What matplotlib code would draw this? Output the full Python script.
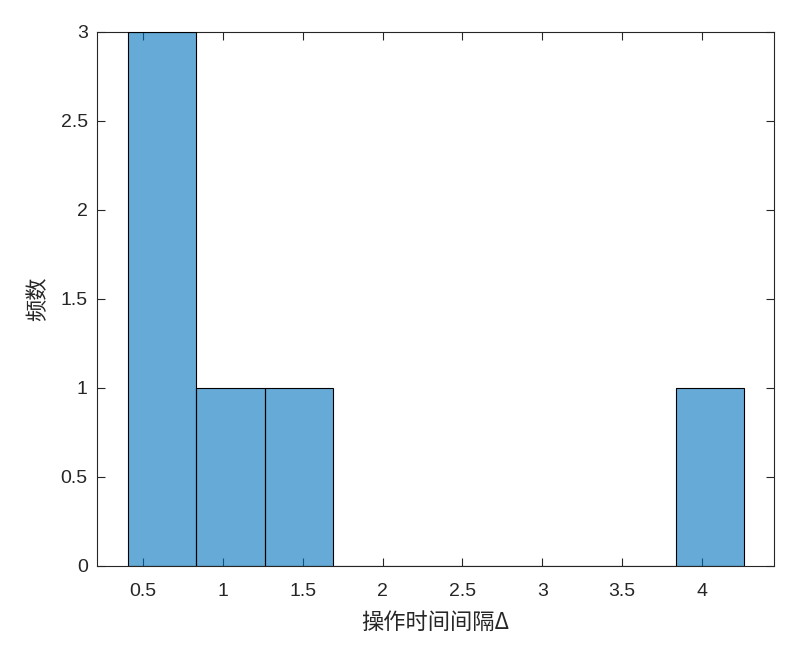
import matplotlib
matplotlib.use("Agg")
import matplotlib.pyplot as plt

# histogram data
bin_edges = [0.402, 0.832, 1.261, 1.691, 2.120, 2.550, 2.979, 3.408, 3.837, 4.266]
counts = [3, 1, 1, 0, 0, 0, 0, 0, 1]
x_ticks = [0.5, 1, 1.5, 2, 2.5, 3, 3.5, 4]
x_ticklabels = ["0.5", "1", "1.5", "2", "2.5", "3", "3.5", "4"]
y_ticks = [0, 0.5, 1, 1.5, 2, 2.5, 3]
y_ticklabels = ["0", "0.5", "1", "1.5", "2", "2.5", "3"]

plt.rcParams['font.family'] = ['Liberation Sans', 'Noto Sans CJK SC', 'DejaVu Sans']

fig = plt.figure(figsize=(7.98, 6.54), dpi=100)
ax = fig.add_axes([0.122, 0.1346, 0.848, 0.8165])

widths = [b - a for a, b in zip(bin_edges[:-1], bin_edges[1:])]
ax.bar(bin_edges[:-1], counts, width=widths, align='edge',
       color='#0072BD', alpha=0.6, edgecolor='none', zorder=2)
ax.bar(bin_edges[:-1], counts, width=widths, align='edge',
       facecolor='none', edgecolor='black', linewidth=0.8, zorder=3)

ax.set_xlim(0.212, 4.453)
ax.set_ylim(0, 3)
ax.set_xticks(x_ticks)
ax.set_xticklabels(x_ticklabels)
ax.set_yticks(y_ticks)
ax.set_yticklabels(y_ticklabels)

ax.tick_params(direction='in', top=True, right=True, length=6, width=0.8,
               colors='#262626', labelsize=14)
ax.tick_params(axis='x', pad=12)
ax.tick_params(axis='y', pad=7)
for s in ax.spines.values():
    s.set_color('#262626')
    s.set_linewidth(0.8)

ax.set_xlabel('操作时间间隔Δ', fontsize=16, color='#262626',
              family=['Noto Sans CJK SC', 'DejaVu Sans'], labelpad=8)
ax.set_ylabel('频数', fontsize=16, color='#262626',
              family=['Noto Sans CJK SC', 'DejaVu Sans'], labelpad=8)

fig.savefig('out.png', dpi=100)
